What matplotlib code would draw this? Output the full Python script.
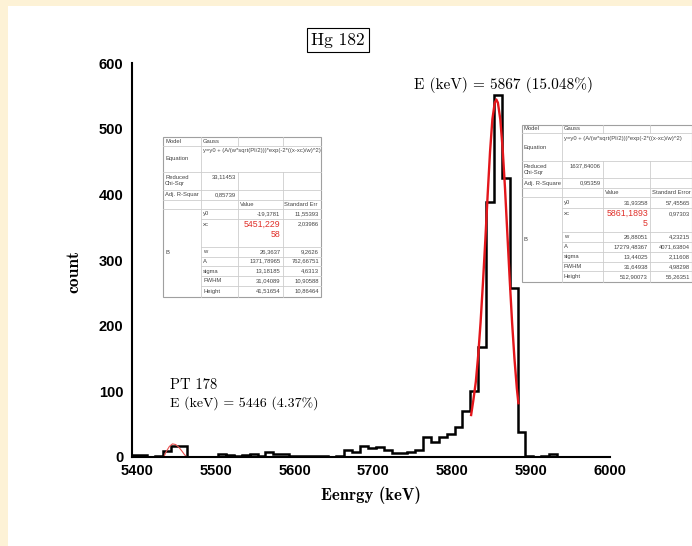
"""
Hg 182 alpha spectrum with Gaussian fits (PT 178 side peak)
"""

import numpy as np
import matplotlib.pyplot as plt
from matplotlib.patches import Rectangle

# data
# -------------------
bin_start = 5393   # keV, left edge of first bin
bin_width = 10     # keV
counts = [3, 3, 0, 1, 9, 17, 17, 0, 0, 0,
          0, 4, 3, 2, 3, 4, 2, 8, 4, 4,
          2, 2, 1, 2, 1, 0, 2, 10, 8, 17,
          13, 16, 11, 6, 6, 7, 11, 30, 23, 31,
          35, 45, 70, 100, 167, 389, 552, 426, 258, 38,
          1, 0, 1, 4, 0, 0, 0, 0, 0, 0]

# red fit curves
peak_fit_x = [5824, 5827, 5830, 5833, 5836, 5839, 5842, 5845, 5848, 5851, 5854, 5856,
              5858, 5861, 5864, 5867, 5870, 5873, 5876, 5879, 5882, 5884]
peak_fit_y = [64, 88, 115, 155, 205, 265, 330, 400, 465, 515, 540, 545,
              540, 515, 470, 410, 340, 270, 205, 150, 105, 82]
pt_fit_x = [5434, 5437, 5441, 5445, 5449, 5453, 5457, 5460, 5463]
pt_fit_y = [0, 8, 16, 20, 19, 15, 9, 4, 0]

x_ticks = [5400, 5500, 5600, 5700, 5800, 5900, 6000]
y_ticks = [0, 100, 200, 300, 400, 500, 600]

# fit result tables (Origin output)
equation = "y=y0 + (A/(w*sqrt(PI/2)))*exp(-2*((x-xc)/w)^2)"
param_names = ["y0", "xc", "w", "A", "sigma", "FWHM", "Height"]

left_chi2 = "33,11453"
left_r2 = "0,85739"
left_values = ["-19,3781", "5451,229\n58", "26,3637", "1371,78965", "13,18185", "31,04089", "41,51654"]
left_errors = ["11,55393", "2,03986", "9,2626", "762,66751", "4,6313", "10,90588", "10,86464"]

right_chi2 = "1637,84006"
right_r2 = "0,95359"
right_values = ["31,93358", "5861,1893\n5", "26,88051", "17279,48367", "13,44025", "31,64938", "512,90073"]
right_errors = ["57,45565", "0,97303", "4,23215", "4071,63804", "2,11608", "4,98298", "55,26351"]

# figure
# -------------------
W, H = 692, 546
fig = plt.figure(figsize=(W / 100, H / 100), dpi=100)
fig.patch.set_facecolor("#fdf2d6")
fig.add_artist(Rectangle((8 / W, 0), 1, 1 - 6 / H, transform=fig.transFigure,
                         facecolor="white", edgecolor="none", zorder=-1))

ax = fig.add_axes([131.5 / W, (H - 457) / H, 478.3 / W, 393.6 / H])
ax.set_facecolor("white")

edges = bin_start + bin_width * np.arange(len(counts) + 1)
ax.stairs(counts, edges, color="black", lw=1.8, baseline=0)
ax.plot(peak_fit_x, peak_fit_y, color="#e3161b", lw=1.7)
ax.plot(pt_fit_x, pt_fit_y, color="#e8504f", lw=0.8)

ax.set_xlim(5393, 6000)
ax.set_ylim(0, 600)
ax.set_xticks(x_ticks)
ax.set_yticks(y_ticks)
for s in ["top", "right"]:
    ax.spines[s].set_visible(False)
for s in ["left", "bottom"]:
    ax.spines[s].set_linewidth(1.5)
ax.tick_params(length=0)
ax.tick_params(axis="x", pad=5)
ax.tick_params(axis="y", pad=6)
for lab in ax.get_xticklabels() + ax.get_yticklabels():
    lab.set_fontfamily("Liberation Sans")
    lab.set_fontweight("bold")
    lab.set_fontsize(10.5)

ax.set_xlabel("Eenrgy (keV)", family="cmb10", fontsize=12, labelpad=6)
ax.set_ylabel("count", family="cmb10", fontsize=12.5, labelpad=12)
ax.yaxis.set_label_coords(-0.104, 0.47)

ax.text(5751, 567, "E (keV) = 5867 (15.048%)", family="cmr10", fontsize=11, va="center")
ax.text(5442, 109, "PT 178", family="cmr10", fontsize=10.5, va="center")
ax.text(5442, 82, "E (keV) = 5446 (4.37%)", family="cmr10", fontsize=10, va="center")

fig.text(338 / W, 1 - 40 / H, "Hg 182", family="cmr10", fontsize=12.5, ha="center", va="center",
         bbox=dict(boxstyle="square,pad=0.25", facecolor="white", edgecolor="black", lw=0.8))

# tables drawn in pixel coordinates on an overlay
ov = fig.add_axes([0, 0, 1, 1], zorder=5)
ov.set_xlim(0, W)
ov.set_ylim(H, 0)
ov.axis("off")


def draw_table(cols, rows, chi2, r2, adj_label, err_label, values, errors):
    grid = dict(color="#cdcdcd", lw=0.6)
    txt = dict(fontsize=4.2, color="#444444", family="Liberation Sans")
    ov.add_patch(Rectangle((cols[0], rows[0]), cols[-1] - cols[0], rows[-1] - rows[0],
                           facecolor="white", edgecolor="#a0a0a0", lw=0.8))
    for i in range(1, len(rows) - 1):
        xs = cols[0] if i <= 5 else cols[1]
        ov.plot([xs, cols[-1]], [rows[i], rows[i]], **grid)
    ov.plot([cols[1], cols[1]], [rows[0], rows[-1]], **grid)
    for c in cols[2:-1]:
        ov.plot([c, c], [rows[0], rows[1]], **grid)
        ov.plot([c, c], [rows[2], rows[-1]], **grid)

    def mid(i, j=None):
        return (rows[i] + rows[j if j is not None else i + 1]) / 2

    ov.text(cols[0] + 2, mid(0), "Model", va="center", **txt)
    ov.text(cols[1] + 2, mid(0), "Gauss", va="center", **txt)
    ov.text(cols[0] + 2, mid(1), "Equation", va="center", **txt)
    ov.text(cols[1] + 2, rows[1] + 2.5, equation, va="top", **txt)
    ov.text(cols[0] + 2, mid(2), "Reduced\nChi-Sqr", va="center", linespacing=1.3, **txt)
    ov.text(cols[2] - 2, rows[2] + 2, chi2, va="top", ha="right", **txt)
    ov.text(cols[0] + 2, mid(3), adj_label, va="center", **txt)
    ov.text(cols[2] - 2, mid(3), r2, va="center", ha="right", **txt)
    ov.text(cols[2] + 2, mid(4), "Value", va="center", **txt)
    ov.text(cols[3] + 1.5, mid(4), err_label, va="center", **txt)
    ov.text(cols[0] + 2, mid(5, 12), "B", va="center", **txt)
    for k, (name, val, err) in enumerate(zip(param_names, values, errors)):
        r = 5 + k
        if name == "xc":
            ov.text(cols[1] + 2, rows[r] + 3, name, va="top", **txt)
            ov.text(cols[3] - 2, rows[r] + 1.5, val, va="top", ha="right", fontsize=6.3,
                    color="#e0302a", family="Liberation Sans", linespacing=1.15)
            ov.text(cols[4] - 2, rows[r] + 3, err, va="top", ha="right", **txt)
        else:
            ov.text(cols[1] + 2, mid(r), name, va="center", **txt)
            ov.text(cols[3] - 2, mid(r), val, va="center", ha="right", **txt)
            ov.text(cols[4] - 2, mid(r), err, va="center", ha="right", **txt)


draw_table([163, 201, 238, 282.5, 321],
           [137, 145.5, 172, 189.5, 199.5, 209, 218.5, 247, 256.5, 266, 276, 286, 296.5],
           left_chi2, left_r2, "Adj. R-Squar", "Standard Err", left_values, left_errors)
draw_table([522, 562, 603, 650, 692],
           [124.5, 133.3, 160.8, 178.2, 188, 197.3, 207.8, 232, 242, 251.6, 261.7, 271.4, 282],
           right_chi2, right_r2, "Adj. R-Square", "Standard Error", right_values, right_errors)

fig.savefig("out.png", dpi=100, facecolor=fig.get_facecolor())
